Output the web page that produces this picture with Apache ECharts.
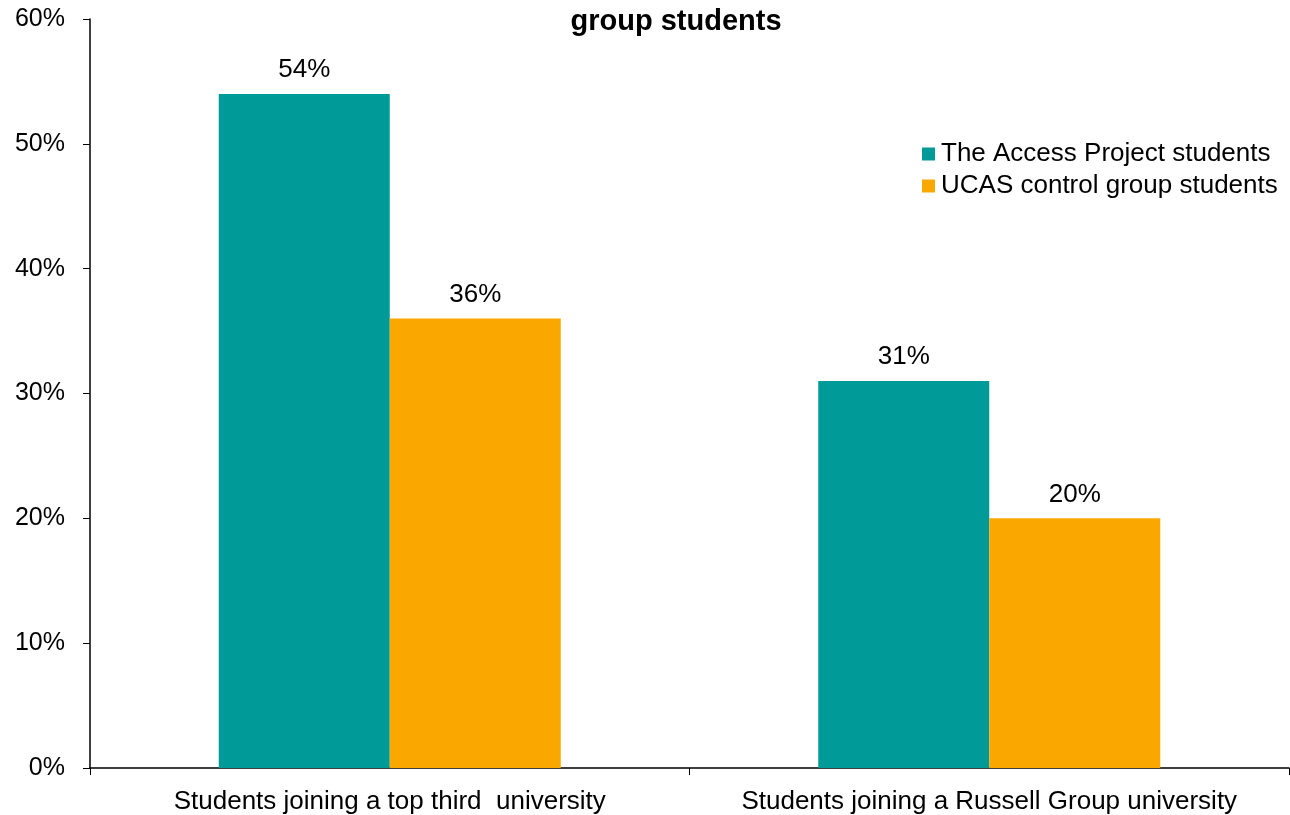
<!DOCTYPE html>
<html><head><meta charset="utf-8">
<script src="https://cdn.jsdelivr.net/npm/echarts@6/dist/echarts.min.js"></script>
<style>html,body{margin:0;padding:0;background:#fff}#c{width:1290px;height:815px}</style>
</head><body><div id="c"></div>
<script>
const categories = ['Students joining a top third  university', 'Students joining a Russell Group university'];
const accessProject = [54, 31];
const ucasControl = [36, 20];
const seriesNames = ['The Access Project students', 'UCAS control group students'];
const titleText = 'group students';

const chart = echarts.init(document.getElementById('c'));
const font = 'Liberation Sans, Arial, sans-serif';
chart.setOption({
  animation: false,
  title: {
    text: titleText, left: 671, top: 2, textAlign: 'center',
    textStyle: { fontFamily: font, fontSize: 29, fontWeight: 'bold', color: '#000' }
  },
  legend: {
    orient: 'vertical', left: 917, top: 136, itemWidth: 13, itemHeight: 13, itemGap: 6,
    icon: 'rect',
    textStyle: { fontFamily: font, fontSize: 26, color: '#000', padding: [0, 0, 0, 1] },
    data: seriesNames
  },
  grid: { left: 90, right: 1, top: 19, bottom: 46, containLabel: false },
  xAxis: {
    type: 'category', data: categories,
    axisLine: { lineStyle: { color: '#000', width: 1.5 } },
    axisTick: { show: true, length: 7, lineStyle: { color: '#000' } },
    axisLabel: { fontFamily: font, fontSize: 26, color: '#000', margin: 21, interval: 0 }
  },
  yAxis: {
    type: 'value', min: 0, max: 60, interval: 10,
    axisLine: { show: true, lineStyle: { color: '#000', width: 1.5 } },
    axisTick: { show: true, length: 7, lineStyle: { color: '#000' } },
    splitLine: { show: false },
    axisLabel: { fontFamily: font, fontSize: 25, color: '#000', margin: 25, formatter: '{value}%' }
  },
  series: [
    { name: seriesNames[0], type: 'bar', data: accessProject, barWidth: 171, barGap: '0%',
      itemStyle: { color: '#009A99' },
      label: { show: true, position: 'top', distance: 11, formatter: '{c}%', fontFamily: font, fontSize: 26, color: '#000' } },
    { name: seriesNames[1], type: 'bar', data: ucasControl, barWidth: 171, barGap: '0%',
      itemStyle: { color: '#FAA800' },
      label: { show: true, position: 'top', distance: 11, formatter: '{c}%', fontFamily: font, fontSize: 26, color: '#000' } }
  ]
});
</script></body></html>
